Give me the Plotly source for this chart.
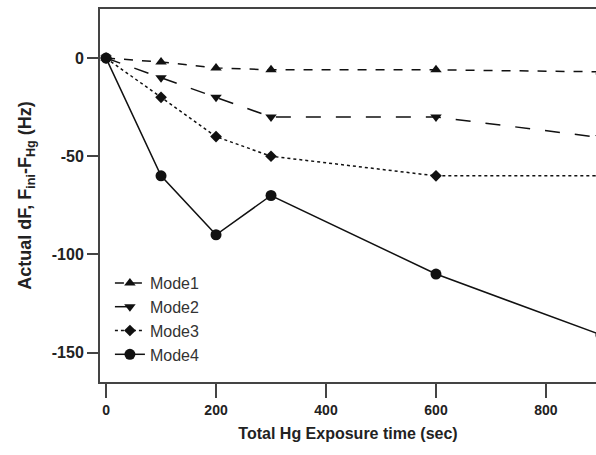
import plotly.graph_objects as go

time_sec = [0, 100, 200, 300, 600, 900]
mode1 = [0, -2, -5, -6, -6, -7]
mode2 = [0, -10, -20, -30, -30, -40.5]
mode3 = [0, -20, -40, -50, -60, -60]
mode4 = [0, -60, -90, -70, -110, -141]

x_ticks = [0, 200, 400, 600, 800]
y_ticks = [0, -50, -100, -150]

series = [
    ("Mode1", mode1, "dash", "triangle-up", 10),
    ("Mode2", mode2, "longdash", "triangle-down", 10),
    ("Mode3", mode3, "dot", "diamond", 9),
    ("Mode4", mode4, "solid", "circle", 11),
]

fig = go.Figure()
for name, ys, dash, sym, size in series:
    fig.add_trace(go.Scatter(
        x=time_sec, y=ys, name=name, mode="lines+markers",
        line=dict(color="#111", width=1.5, dash=dash),
        marker=dict(symbol=sym, size=size, color="#111"),
        cliponaxis=True,
    ))

font_main = "Liberation Sans, Arial, sans-serif"
fig.update_layout(
    width=596, height=455,
    margin=dict(l=100, r=0, t=9, b=73),
    paper_bgcolor="white", plot_bgcolor="white",
    font=dict(family=font_main, color="#222"),
    showlegend=True,
    legend=dict(x=0.02, y=0.311, xanchor="left", yanchor="top",
                bgcolor="rgba(0,0,0,0)", font=dict(size=16, color="#333"),
                tracegroupgap=0, itemwidth=30),
    xaxis=dict(
        range=[-11, 891], tickvals=x_ticks, ticktext=[str(v) for v in x_ticks],
        showgrid=False, zeroline=False, showline=True, mirror=True,
        linecolor="#444", linewidth=2, ticks="outside", ticklen=14,
        tickwidth=2, tickcolor="#444",
        tickfont=dict(size=14, family=font_main, color="#222", weight="bold"),
        title=dict(text="<b>Total Hg Exposure time (sec)</b>",
                   font=dict(size=16, color="#222"), standoff=11),
    ),
    yaxis=dict(
        range=[-165, 25], tickvals=y_ticks, ticktext=[str(v) for v in y_ticks],
        showgrid=False, zeroline=False, showline=True,
        linecolor="#444", linewidth=2, ticks="outside", ticklen=11,
        tickwidth=2, tickcolor="#444",
        tickfont=dict(size=16, family=font_main, color="#222", weight="bold"),
        title=dict(text="<b>Actual dF, F<sub>ini</sub>-F<sub>Hg</sub> (Hz)</b>",
                   font=dict(size=18, color="#222"), standoff=15),
    ),
)

fig.write_html("out.html")
